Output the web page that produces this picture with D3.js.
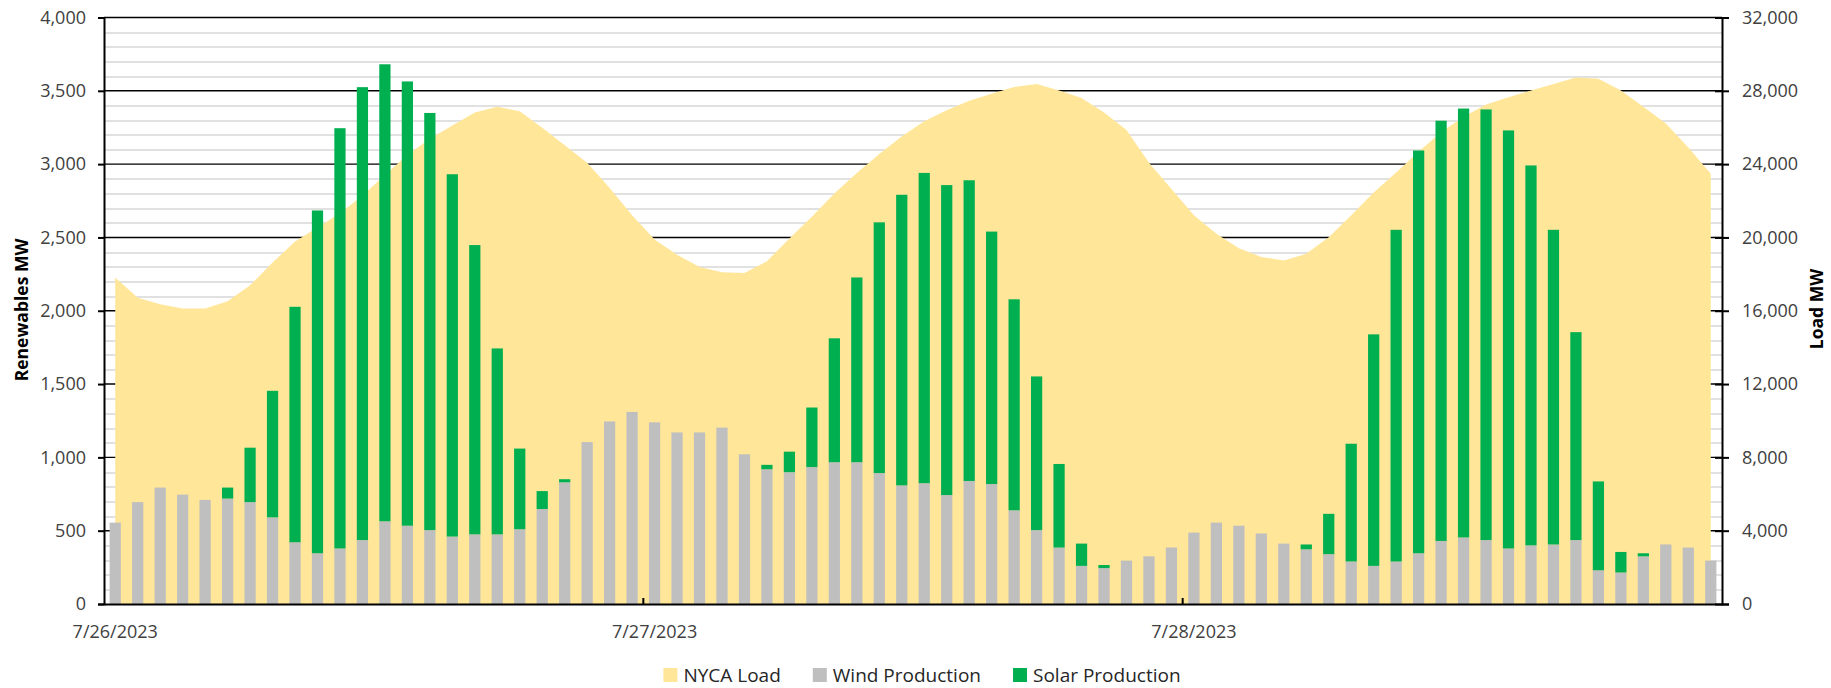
<!DOCTYPE html>
<html>
<head>
<meta charset="utf-8">
<script src="https://cdn.jsdelivr.net/npm/d3@7/dist/d3.min.js"></script>
<style>
  body { margin: 0; background: #fff; }
  text { font-family: "Open Sans", sans-serif; }
</style>
</head>
<body>
<div id="chart"></div>
<script>
// day labels shown on the x axis (one every 24 hours)
var days = ["7/26/2023", "7/27/2023", "7/28/2023"];

// hourly wind production, MW
var wind = [555, 695, 794, 746, 710, 719, 695, 591, 421, 346, 379, 436,
            564, 534, 504, 460, 475, 475, 510, 648, 830, 1104, 1245, 1310,
            1239, 1170, 1170, 1203, 1021, 919, 899, 934, 967, 967, 893, 809,
            824, 743, 839, 818, 639, 504, 385, 260, 245, 296, 325, 385,
            487, 555, 534, 481, 412, 373, 340, 290, 260, 290, 346, 430,
            454, 436, 379, 400, 406, 436, 230, 215, 325, 406, 385, 296];

// hourly solar production, MW (stacked on wind)
var solar = [0, 0, 0, 0, 0, 75, 371, 863, 1606, 2338, 2866, 3089,
             3117, 3030, 2845, 2471, 1973, 1268, 550, 122, 21, 0, 0, 0,
             0, 0, 0, 0, 0, 30, 140, 406, 845, 1260, 1710, 1982,
             2116, 2114, 2051, 1722, 1439, 1048, 570, 152, 21, 0, 0, 0,
             0, 0, 0, 0, 0, 33, 275, 803, 1579, 2262, 2747, 2866,
             2925, 2937, 2851, 2591, 2146, 1418, 606, 140, 21, 0, 0, 0];

// hourly NYCA load, MW (right axis)
var load = [17815, 16716, 16358, 16119, 16119, 16525, 17385, 18627, 19773, 20537, 21325, 22280,
            23403, 24501, 25385, 26101, 26818, 27128, 26890, 25982, 25027, 24072, 22700, 21207,
            19892, 19057, 18388, 18101, 18054, 18699, 19940, 21134, 22400, 23522, 24549, 25504,
            26340, 26937, 27463, 27845, 28203, 28370, 28012, 27606, 26818, 25863, 24072, 22639,
            21207, 20200, 19415, 18937, 18746, 19104, 20012, 21206, 22448, 23546, 24669, 25743,
            26579, 27248, 27654, 28012, 28370, 28728, 28657, 28012, 27128, 26221, 24907, 23474];

var leftTicks = [0, 500, 1000, 1500, 2000, 2500, 3000, 3500, 4000];
var rightTicks = [0, 4000, 8000, 12000, 16000, 20000, 24000, 28000, 32000];
var seriesNames = ["NYCA Load", "Wind Production", "Solar Production"];
var seriesColors = ["#FFE699", "#BFBFBF", "#00B050"];

// hour categories, 24 per day
var hours = [];
days.forEach(function (d) {
  for (var h = 1; h <= 24; h++) hours.push(d + " HE" + h);
});

var W = 1831, H = 688;
var margin = {top: 17.5, right: 109, bottom: 84, left: 104};
var width = W - margin.left - margin.right,
    height = H - margin.top - margin.bottom;

var svg = d3.select("#chart").append("svg")
  .attr("width", W)
  .attr("height", H);

var g = svg.append("g")
  .attr("transform", "translate(" + margin.left + "," + margin.top + ")");

// scales
var x = d3.scaleBand()
  .domain(hours)
  .range([0, width])
  .paddingInner(0.5)
  .paddingOuter(0.25);

var y = d3.scaleLinear().domain([0, 4000]).range([height, 0]);
var yLoad = d3.scaleLinear().domain([0, 32000]).range([height, 0]);

// minor gridlines every 100 MW
var minor = d3.range(100, 4000, 100).filter(function (v) { return v % 500 !== 0; });
g.append("g").selectAll("line")
  .data(minor)
  .enter().append("line")
  .attr("x1", 0).attr("x2", width)
  .attr("y1", function (d) { return Math.round(y(d)) + 0.5; })
  .attr("y2", function (d) { return Math.round(y(d)) + 0.5; })
  .attr("stroke", "#c4c4c4")
  .attr("stroke-width", 1.2);

// major gridlines
g.append("g").selectAll("line")
  .data(leftTicks.slice(1))
  .enter().append("line")
  .attr("x1", 0).attr("x2", width)
  .attr("y1", function (d) { return y(d); })
  .attr("y2", function (d) { return y(d); })
  .attr("stroke", "#000")
  .attr("stroke-width", 1.4);

// load area
var cx = function (i) { return x(hours[i]) + x.bandwidth() / 2; };
var area = d3.area()
  .x(function (d, i) { return cx(i); })
  .y0(height)
  .y1(function (d) { return yLoad(d); });

g.append("path")
  .datum(load)
  .attr("d", area)
  .attr("fill", seriesColors[0]);

// stacked bars
var rows = hours.map(function (h, i) { return {hour: h, wind: wind[i], solar: solar[i]}; });
var stacked = d3.stack().keys(["wind", "solar"])(rows);

g.append("g").selectAll("g")
  .data(stacked)
  .enter().append("g")
  .attr("fill", function (d, i) { return seriesColors[i + 1]; })
  .selectAll("rect")
  .data(function (d) { return d; })
  .enter().append("rect")
  .attr("x", function (d) { return x(d.data.hour); })
  .attr("width", x.bandwidth())
  .attr("y", function (d) { return y(d[1]); })
  .attr("height", function (d) { return y(d[0]) - y(d[1]); });

// left axis
var axL = g.append("g")
  .call(d3.axisLeft(y).tickValues(leftTicks).tickFormat(d3.format(",")).tickSize(6).tickPadding(12));
axL.select(".domain").attr("stroke-width", 2);
axL.selectAll(".tick line").attr("stroke-width", 2);
axL.selectAll("text").attr("font-size", "18px").attr("fill", "#404040")
  .attr("font-family", "Open Sans, sans-serif");

// right axis
var axR = g.append("g")
  .attr("transform", "translate(" + width + ",0)")
  .call(d3.axisRight(yLoad).tickValues(rightTicks).tickFormat(d3.format(",")).tickSize(7).tickPadding(13));
axR.select(".domain").attr("stroke-width", 2);
axR.selectAll(".tick line").attr("x1", -7).attr("stroke-width", 2);
axR.selectAll("text").attr("font-size", "18px").attr("fill", "#404040")
  .attr("font-family", "Open Sans, sans-serif");

// bottom axis: day labels under the first hour of each day
var axB = g.append("g")
  .attr("transform", "translate(0," + height + ")")
  .call(d3.axisBottom(x)
    .tickValues(days.map(function (d, i) { return hours[i * 24]; }))
    .tickFormat(function (d) { return d.split(" ")[0]; })
    .tickSize(0).tickPadding(21));
axB.select(".domain").attr("stroke-width", 2);
axB.selectAll("text").attr("font-size", "18px").attr("fill", "#404040")
  .attr("font-family", "Open Sans, sans-serif");

// small inside ticks at day boundaries
var bounds = days.slice(1).map(function (d, i) { return hours[(i + 1) * 24]; });
g.append("g").selectAll("line")
  .data(bounds)
  .enter().append("line")
  .attr("x1", function (d) { return x(d) - x.step() * x.paddingInner() / 2; })
  .attr("x2", function (d) { return x(d) - x.step() * x.paddingInner() / 2; })
  .attr("y1", height)
  .attr("y2", height - 6)
  .attr("stroke", "#000")
  .attr("stroke-width", 2);

// axis titles
svg.append("text")
  .attr("transform", "translate(21,310) rotate(-90)")
  .attr("text-anchor", "middle")
  .attr("dominant-baseline", "central")
  .attr("font-size", "17.5px")
  .attr("font-weight", "bold")
  .text("Renewables MW");

svg.append("text")
  .attr("transform", "translate(1816,309) rotate(-90)")
  .attr("text-anchor", "middle")
  .attr("dominant-baseline", "central")
  .attr("font-size", "17.5px")
  .attr("font-weight", "bold")
  .text("Load MW");

// legend
var legend = svg.append("g");
var items = legend.selectAll("g")
  .data(seriesNames)
  .enter().append("g");
items.append("rect")
  .attr("width", 14).attr("height", 14)
  .attr("y", -7)
  .attr("fill", function (d, i) { return seriesColors[i]; });
items.append("text")
  .attr("x", 20)
  .attr("dy", "0.35em")
  .attr("font-size", "19px")
  .attr("fill", "#262626")
  .text(function (d) { return d; });

var pos = 0;
items.each(function () {
  var w = 20 + this.querySelector("text").getComputedTextLength();
  d3.select(this).attr("transform", "translate(" + pos + ",0)");
  pos += w + 32;
});
var total = pos - 32;
legend.attr("transform", "translate(" + (922 - total / 2) + ",675)");
</script>
</body>
</html>
